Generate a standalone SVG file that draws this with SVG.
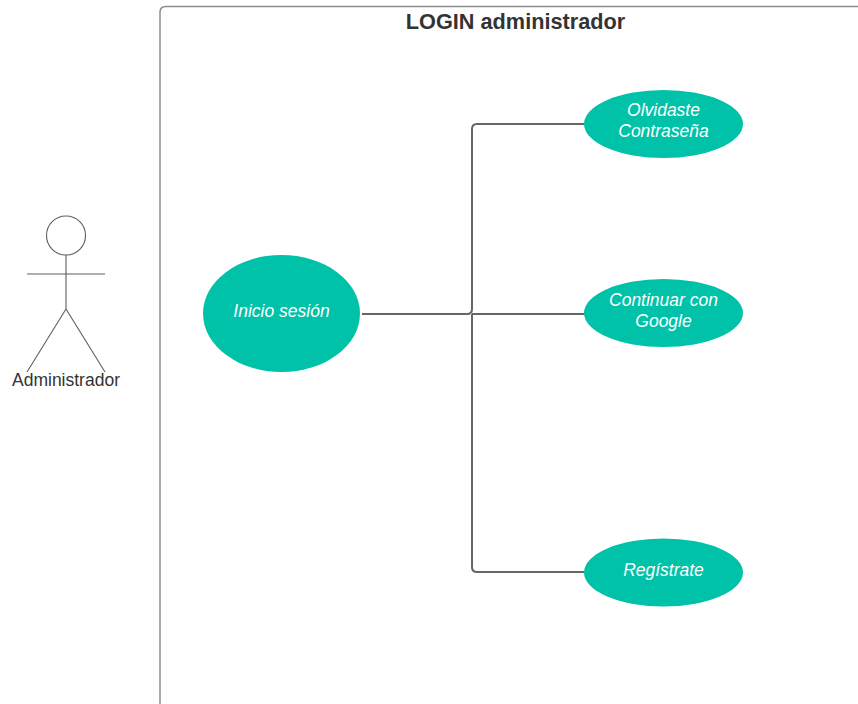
<svg xmlns="http://www.w3.org/2000/svg" width="858" height="704" viewBox="0 0 858 704">
<style>
text{font-family:"Liberation Sans",Arial,sans-serif;text-anchor:middle}
.uc{fill:#00c2a8}
.uct{fill:#fff;font-style:italic;font-size:17.500px}
.conn{fill:none;stroke:#666;stroke-width:2}
.act{fill:none;stroke:#5e5e5e;stroke-width:1.100}
</style>
<rect width="858" height="704" fill="#fff"/>
<g id="boundary">
<path d="M160 704V12Q160 6.500 166 6.500H858" fill="none" stroke="#8c8c8c" stroke-width="1.500"/>
<text x="515.500" y="29" font-size="21.700" font-weight="700" fill="#333">LOGIN administrador</text>
</g>
<g id="connectors">
<path class="conn" d="M362 314H467Q472 314 472 309V129Q472 124 477 124H585"/>
<path class="conn" d="M472 314H585"/>
<path class="conn" d="M472 314V567Q472 572 477 572H585"/>
</g>
<g id="actor">
<circle class="act" cx="66" cy="235.500" r="19.500"/>
<path class="act" d="M66 255V309M27 274H105M27 372L66 309L105 372"/>
<text x="66" y="386" font-size="17.500" fill="#333">Administrador</text>
</g>
<g id="inicio">
<ellipse class="uc" cx="281.500" cy="313.500" rx="78.500" ry="58.500"/>
<text class="uct" x="281.500" y="316.500">Inicio sesión</text>
</g>
<g id="olvidaste">
<ellipse class="uc" cx="663.500" cy="124" rx="79.500" ry="34"/>
<text class="uct" x="663.500" y="116">Olvidaste</text>
<text class="uct" x="663.500" y="137">Contraseña</text>
</g>
<g id="continuar">
<ellipse class="uc" cx="663.500" cy="313" rx="79.500" ry="34"/>
<text class="uct" x="663.500" y="305.500">Continuar con</text>
<text class="uct" x="663.500" y="326.500">Google</text>
</g>
<g id="registrate">
<ellipse class="uc" cx="663.500" cy="572.500" rx="79.500" ry="34"/>
<text class="uct" x="663.500" y="575.500">Regístrate</text>
</g>
</svg>
